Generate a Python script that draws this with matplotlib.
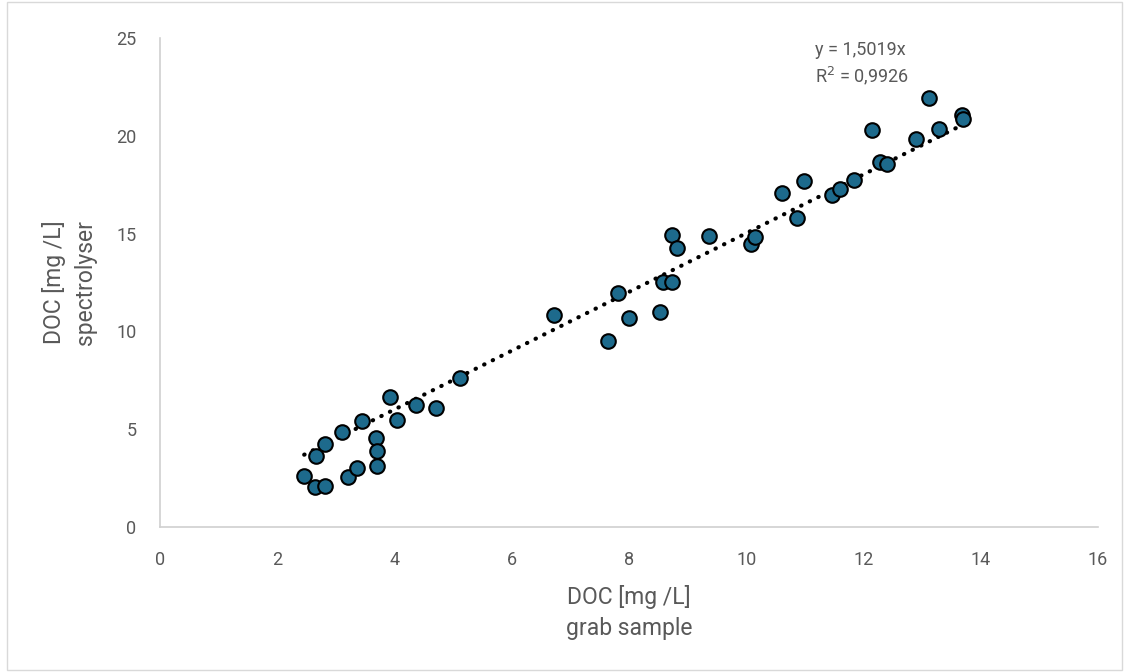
import numpy as np
import matplotlib
matplotlib.use("Agg")
import matplotlib.pyplot as plt
from matplotlib.patches import Rectangle

plt.rcParams.update({
    "font.family": ["Roboto", "DejaVu Sans"],
    "font.size": 12,
})

# grab sample vs spectrolyser DOC [mg/L]
doc_grab = [2.46, 2.64, 2.81, 2.66, 2.81, 3.10, 3.21, 3.36, 3.45, 3.68,
            3.70, 3.70, 3.92, 4.04, 4.37, 4.71, 5.12, 6.72, 7.64, 7.81,
            8.00, 8.53, 8.58, 8.73, 8.73, 8.82, 9.36, 10.08, 10.15, 10.61,
            10.87, 10.99, 11.46, 11.60, 11.84, 12.15, 12.28, 12.40, 12.90, 13.12,
            13.29, 13.68, 13.70]
doc_spectro = [2.61, 2.04, 2.10, 3.63, 4.24, 4.86, 2.56, 3.02, 5.42, 4.55,
               3.89, 3.12, 6.65, 5.47, 6.24, 6.08, 7.62, 10.84, 9.51, 11.96,
               10.69, 10.99, 12.53, 12.53, 14.93, 14.26, 14.88, 14.47, 14.83, 17.08,
               15.80, 17.69, 16.97, 17.28, 17.74, 20.30, 18.66, 18.56, 19.84, 21.93,
               20.35, 21.06, 20.86]

slope = 1.5019
r2 = 0.9926
x_ticks = [0, 2, 4, 6, 8, 10, 12, 14, 16]
y_ticks = [0, 5, 10, 15, 20, 25]

grey = "#595959"

fig = plt.figure(figsize=(11.25, 6.72), dpi=100)
ax = fig.add_axes([0.1422, 0.2158, 0.8338, 0.7277])

xs = np.array([min(doc_grab), max(doc_grab)])
ax.plot(xs, slope * xs, color="black", linestyle=(0, (0.1, 2.2)),
        linewidth=3.0, dash_capstyle="round", zorder=2)
ax.scatter(doc_grab, doc_spectro, s=110, color="#1d6a8c",
           edgecolor="black", linewidth=1.5, zorder=3)

ax.set_xlim(0, 16)
ax.set_ylim(0, 25)
ax.set_xticks(x_ticks)
ax.set_yticks(y_ticks)
for side in ["top", "right"]:
    ax.spines[side].set_visible(False)
for side in ["bottom", "left"]:
    ax.spines[side].set_color("#d0d0d0")
    ax.spines[side].set_linewidth(1.2)
ax.tick_params(length=0, labelcolor=grey, labelsize=13)
ax.tick_params(axis="x", pad=17)
ax.tick_params(axis="y", pad=17)

ax.set_xlabel("DOC [mg /L]\ngrab sample", color=grey, fontsize=16.5, labelpad=12,
              linespacing=1.45)
ax.set_ylabel("DOC [mg /L]\nspectrolyser", color=grey, fontsize=16.5, labelpad=14,
              linespacing=1.45)

ax.text(11.17, 24.39, f"y = {slope:.4f}x".replace(".", ","), color=grey,
        fontsize=13, va="center")
ax.text(11.17, 23.05, f"R$^2$ = {r2:.4f}".replace(".", ","), color=grey,
        fontsize=13, va="center")

fig.patches.append(Rectangle((0.006, 0.003), 0.991, 0.994, transform=fig.transFigure,
                             fill=False, edgecolor="#d9d9d9", linewidth=1.0))

fig.savefig("out.png", dpi=100)
